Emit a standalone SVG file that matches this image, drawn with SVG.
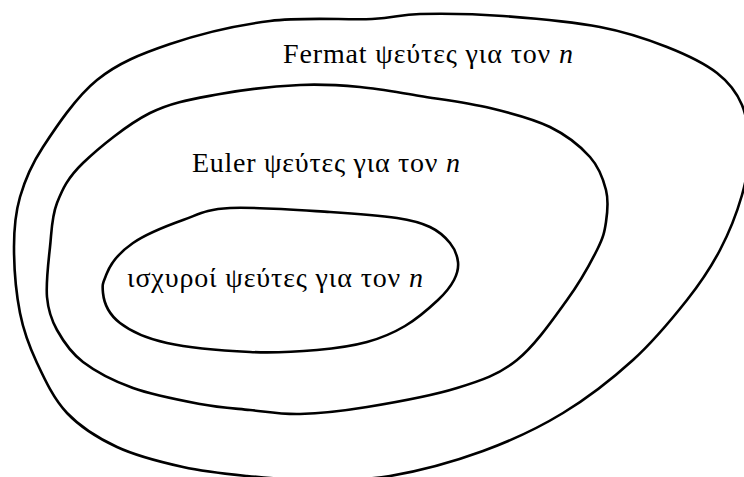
<svg xmlns="http://www.w3.org/2000/svg" width="744" height="477" viewBox="0 0 744 477">
<style>
.set{fill:none;stroke:#000;stroke-width:2.6;stroke-linejoin:round}
.lbl{font-family:"Liberation Serif","DejaVu Serif",serif;font-size:28px;fill:#000}
.it{font-style:italic}
</style>
<rect width="744" height="477" fill="#fff"/>
<g id="fermat">
<path class="set" d="M270,21 C303.7,16.8 347,20.2 372,19 C397,17.8 398.2,14.5 420,14 C441.8,13.5 473,13.8 503,16 C533,18.2 572.7,21.8 600,27 C627.3,32.2 647.5,39.3 667,47 C686.5,54.7 704.5,63.3 717,73 C729.5,82.7 736.7,92.2 742,105 C747.3,117.8 749,135 749,150 C749,165 746.8,178.3 742,195 C737.2,211.7 729.2,232.5 720,250 C710.8,267.5 701.5,281.7 687,300 C672.5,318.3 653.7,341.2 633,360 C612.3,378.8 588,397.8 563,413 C538,428.2 511.8,440.5 483,451 C454.2,461.5 418,471.2 390,476 C362,480.8 338.8,480 315,480 C291.2,480 269,478.2 247,476 C225,473.8 204.7,471.8 183,467 C161.3,462.2 136.3,456 117,447 C97.7,438 80.3,427 67,413 C53.7,399 44.8,379.7 37,363 C29.2,346.3 23.8,332.3 20,313 C16.2,293.7 14,266.3 14,247 C14,227.7 15.2,213.7 20,197 C24.8,180.3 30.2,166.5 43,147 C55.8,127.5 75.8,97.2 97,80 C118.2,62.8 141.2,53.8 170,44 C198.8,34.2 236.3,25.2 270,21 Z"/>
<text class="lbl" x="283" y="63" textLength="290">Fermat ψεύτες για τον <tspan class="it">n</tspan></text>
</g>
<g id="euler">
<path class="set" d="M300,85 C323.3,83.8 340,85.2 360,87 C380,88.8 398.3,92.5 420,96 C441.7,99.5 468.3,102.8 490,108 C511.7,113.2 533.3,118.8 550,127 C566.7,135.2 580.7,146.5 590,157 C599.3,167.5 603.3,179.2 606,190 C608.7,200.8 607.5,212 606,222 C604.5,232 603.5,237 597,250 C590.5,263 580.3,281.7 567,300 C553.7,318.3 535.3,345.3 517,360 C498.7,374.7 482,380.2 457,388 C432,395.8 393.2,402.7 367,407 C340.8,411.3 319.5,413.5 300,414 C280.5,414.5 266.7,411.7 250,410 C233.3,408.3 219.5,407.7 200,404 C180.5,400.3 152.5,395 133,388 C113.5,381 95.7,371.7 83,362 C70.3,352.3 63,340.8 57,330 C51,319.2 48.2,310.8 47,297 C45.8,283.2 48.3,262.7 50,247 C51.7,231.3 51.5,217 57,203 C62.5,189 67.5,178 83,163 C98.5,148 127.2,124.5 150,113 C172.8,101.5 195,98.7 220,94 C245,89.3 276.7,86.2 300,85 Z"/>
<text class="lbl" x="192" y="172" textLength="268">Euler ψεύτες για τον <tspan class="it">n</tspan></text>
</g>
<g id="strong">
<path class="set" d="M230,208 C254.5,206.7 302.2,210.3 330,212 C357.8,213.7 380.3,215.5 397,218 C413.7,220.5 421.2,222.8 430,227 C438.8,231.2 445.3,237.2 450,243 C454.7,248.8 457.3,255.8 458,262 C458.7,268.2 457.3,273.7 454,280 C450.7,286.3 446.2,292.3 438,300 C429.8,307.7 416.8,319 405,326 C393.2,333 381.7,338 367,342 C352.3,346 336.5,348.3 317,350 C297.5,351.7 275,353.2 250,352 C225,350.8 188.7,347.8 167,343 C145.3,338.2 130.7,331.3 120,323 C109.3,314.7 104,303 103,293 C102,283 103,283 107,273 C111,263 120.3,251.8 133,243 C145.7,234.2 166.8,225.8 183,220 C199.2,214.2 205.5,209.3 230,208 Z"/>
<text class="lbl" x="127" y="287" textLength="296">ισχυροί ψεύτες για τον <tspan class="it">n</tspan></text>
</g>
<g id="connectors"/>
</svg>
